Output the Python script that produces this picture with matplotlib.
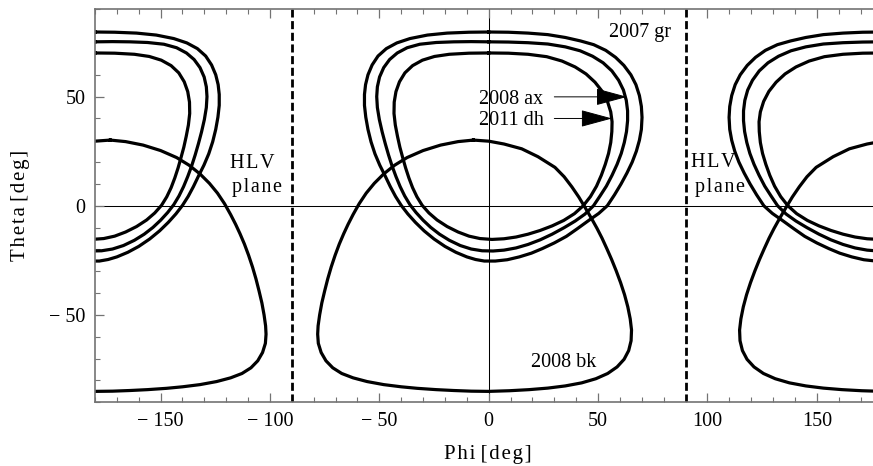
import numpy as np
import matplotlib
matplotlib.use('Agg')
import matplotlib.pyplot as plt
from matplotlib.ticker import MultipleLocator, FuncFormatter

plt.rcParams['font.family'] = ['Liberation Serif', 'DejaVu Serif']

# sky tracks (phi, theta) in degrees
gr_2007 = [(0, 79.6), (9, 79.5), (18, 79.1), (27, 78.4), (35, 77.1), (42, 75.5), (48, 73.8),
           (53.5, 71.2), (58, 68), (61.8, 64.3), (65, 60), (67.3, 55.5), (68.9, 50.5), (69.8, 45.5),
           (70.1, 40.5), (69.8, 35), (68.9, 30), (67.5, 25), (65.6, 20), (63.2, 15), (60.5, 10),
           (57.5, 5), (54.2, 0), (50.3, -3.5), (45.6, -6.8), (40.5, -10.5), (35.5, -14), (30, -17),
           (24.5, -19.6), (19.5, -21.7), (14, -23.4), (8.5, -24.7), (3, -25.3), (-2, -25.3),
           (-6, -24.6), (-10, -23.4), (-15, -21.3), (-20, -18.6), (-25, -15.2), (-29.5, -11.5),
           (-33.5, -7.6), (-37, -3.7), (-40, 0.2), (-42.6, 4.3), (-45, 8.8), (-47.3, 13.6),
           (-49.8, 18.6), (-52, 23.8), (-53.8, 29.3), (-55.2, 35), (-56.2, 40.6), (-56.8, 46),
           (-56.8, 51), (-56.3, 55.5), (-55.2, 60), (-53.3, 64.5), (-50.6, 68.6), (-46.8, 72),
           (-42, 74.6), (-36, 76.6), (-28, 78.2), (-19, 79.1), (-9, 79.5), (0, 79.6)]

ax_2008 = [(0, 75.1), (9, 75), (18, 74.7), (27, 74.1), (35, 72.8), (41.8, 71), (47.5, 68.5),
           (52.3, 65.5), (56.3, 61.8), (59.4, 57.5), (61.6, 53), (62.9, 48.3), (63.5, 43.5),
           (63.5, 39), (63, 34), (62, 29), (60.6, 24), (58.7, 19), (56.4, 14), (53.8, 9),
           (50.9, 4.5), (47.9, 0), (44, -3.8), (39.5, -7), (34.5, -10), (29, -13), (23.5, -15.6),
           (18, -17.7), (12.5, -19.3), (7, -20.3), (2, -20.7), (-3, -20.6), (-8, -19.8),
           (-13, -18.2), (-18, -15.8), (-22.5, -13), (-26.5, -9.9), (-30, -6.6), (-33.2, -3.1),
           (-36, 0.5), (-38.4, 4.5), (-40.5, 8.8), (-42.4, 13.4), (-44.2, 18.3), (-45.8, 23.3),
           (-47.3, 28.5), (-48.7, 33.8), (-50, 39.5), (-50.9, 45), (-51.2, 50), (-50.9, 54.5),
           (-49.9, 59), (-48, 63.3), (-45.3, 67), (-41.8, 70), (-37.3, 72.4), (-31.5, 74),
           (-24, 74.8), (-16, 75.1), (-8, 75.2), (0, 75.1)]

dh_2011 = [(0, 70), (9, 69.9), (18, 69.4), (26.5, 68.3), (33.5, 66.3), (39.5, 63.6), (44.5, 60.4),
           (48.6, 56.6), (51.9, 52.4), (54.3, 47.8), (55.8, 43), (56.4, 38.5), (56.3, 34),
           (55.8, 29), (54.8, 24), (53.3, 19), (51.5, 14), (49.3, 9), (46.5, 4.2), (43.2, 0),
           (39.2, -3.6), (34.3, -6.7), (29, -9.2), (23.5, -11.3), (18, -13), (12.5, -14.3),
           (7, -15.1), (1.5, -15.4), (-4, -15), (-9, -13.9), (-14, -12), (-19, -9.5),
           (-23.6, -6.5), (-27.3, -3.3), (-30.4, 0.2), (-32.8, 4.1), (-34.8, 8.3), (-36.5, 12.8),
           (-38, 17.4), (-39.3, 22), (-40.6, 26.8), (-41.7, 31.8), (-42.7, 37), (-43.3, 42.3),
           (-43.2, 47.5), (-42.4, 52.3), (-40.8, 56.8), (-38.3, 60.9), (-34.8, 64.2),
           (-30.3, 66.7), (-24.8, 68.4), (-18, 69.4), (-9, 69.9), (0, 70)]

bk_2008 = [(-7, 30.1), (0, 29.6), (7, 28.3), (15.1, 26.1), (22.5, 22.5), (30.3, 17.6), (34.5, 13.3),
           (38, 8.7), (41.2, 4), (44.2, -1), (47, -5.8), (49.5, -10.3), (51.8, -14.8), (54, -19.6),
           (56.2, -24.6), (58.3, -29.8), (60.3, -35.2), (62.1, -40.7), (63.6, -46.3), (64.7, -51.8),
           (65.3, -56.9), (65.1, -61.8), (64, -66.3), (61.9, -70.3), (58.7, -73.8), (54.4, -76.8),
           (49, -79.2), (42.5, -81.1), (35, -82.5), (27, -83.5), (18.5, -84.2), (9.5, -84.7),
           (0, -85), (-8, -84.9), (-16, -84.6), (-24, -84.2), (-32.7, -83.6), (-40, -82.9),
           (-48, -81.9), (-55.6, -80.5), (-62, -78.8), (-67.2, -76.8), (-71.3, -74.2),
           (-74.4, -71), (-76.6, -67.2), (-77.9, -63), (-78.2, -58.8), (-78, -55), (-77.3, -50),
           (-76.3, -44.5), (-75, -39), (-73.6, -33.5), (-72, -28), (-70.2, -22.6), (-68.3, -17.5),
           (-66.3, -12.8), (-64.3, -8.5), (-62, -4), (-59.2, 1), (-56, 5.8), (-52.3, 10.3),
           (-48, 14.6), (-43, 18.6), (-37.3, 22.1), (-30, 25.3), (-22, 27.8), (-14, 29.4),
           (-7, 30.1)]

tracks = [gr_2007, ax_2008, dh_2011, bk_2008]
hlv_plane = [-90, 90]

fig = plt.figure(figsize=(8.73, 4.66), dpi=100)
ax = fig.add_axes([95 / 873, 1 - 402.3 / 466, (873 - 95) / 873, 393 / 466])

for tr in tracks:
    phi, theta = np.array(tr).T
    ax.plot(phi, theta, color='k', lw=2.3, solid_joinstyle='round')
    # mirror images through the HLV plane
    ax.plot(180 - phi, theta, color='k', lw=2.3, solid_joinstyle='round')
    ax.plot(-180 - phi, theta, color='k', lw=2.3, solid_joinstyle='round')

ax.axhline(0, color='k', lw=0.75, zorder=0)
ax.axvline(0, color='k', lw=0.75, zorder=0)
for p in hlv_plane:
    ax.axvline(p, color='k', lw=2.0, linestyle=(0, (2.9, 1.3)))

ax.set_xlim(-180, 175.7)
ax.set_ylim(-90, 90)

def fmt(v, pos):
    if v < 0:
        return '\u2212 %d' % abs(v)
    return '%d' % v

ax.xaxis.set_major_locator(MultipleLocator(50))
ax.xaxis.set_minor_locator(MultipleLocator(10))
ax.yaxis.set_major_locator(MultipleLocator(50))
ax.yaxis.set_minor_locator(MultipleLocator(10))
ax.xaxis.set_major_formatter(FuncFormatter(fmt))
ax.yaxis.set_major_formatter(FuncFormatter(fmt))
ax.tick_params(which='both', direction='in', color='0.45', top=True, right=False,
               labelsize=14.5, pad=7)
ax.tick_params(which='major', length=6.5, width=0.9)
ax.tick_params(which='minor', length=3.5, width=0.8)
ax.spines['right'].set_visible(False)
for s in ('left', 'top', 'bottom'):
    ax.spines[s].set_color('0.45')
    ax.spines[s].set_linewidth(1.2)

def spaced(s):
    return '\u200a'.join(s)

fs = 14.5
ax.text(69.3, 77.3, '2007 gr', fontsize=fs, ha='center', va='baseline')
ax.text(25, 46.5, '2008 ax', fontsize=fs, ha='right', va='baseline')
ax.text(25, 36.9, '2011 dh', fontsize=fs, ha='right', va='baseline')
ax.text(34.1, -73.7, '2008 bk', fontsize=fs, ha='center', va='baseline')
ax.text(-108, 17.5, spaced('HLV'), fontsize=fs, ha='center', va='baseline')
ax.text(-105.8, 6.4, spaced('plane'), fontsize=fs, ha='center', va='baseline')
ax.text(102.7, 17.8, spaced('HLV'), fontsize=fs, ha='center', va='baseline')
ax.text(105.9, 6.4, spaced('plane'), fontsize=fs, ha='center', va='baseline')

arrow = dict(arrowstyle='-|>,head_length=1.0,head_width=0.27', color='k', lw=0.7,
             shrinkA=0, shrinkB=0, mutation_scale=20)
ax.annotate('', xy=(63.3, 49.9), xytext=(30, 49.9), arrowprops=arrow)
ax.annotate('', xy=(56.4, 40), xytext=(30, 40), arrowprops=arrow)

fig.text(21 / 873, 1 - 205.8 / 466, spaced('Theta') + ' ' + spaced('[deg]'), rotation=90,
         fontsize=15, ha='center', va='center')
fig.text(488.3 / 873, 1 - 455 / 466, spaced('Phi') + ' ' + spaced('[deg]'), fontsize=15,
         ha='center', va='center')

fig.savefig('out.png', dpi=100)
